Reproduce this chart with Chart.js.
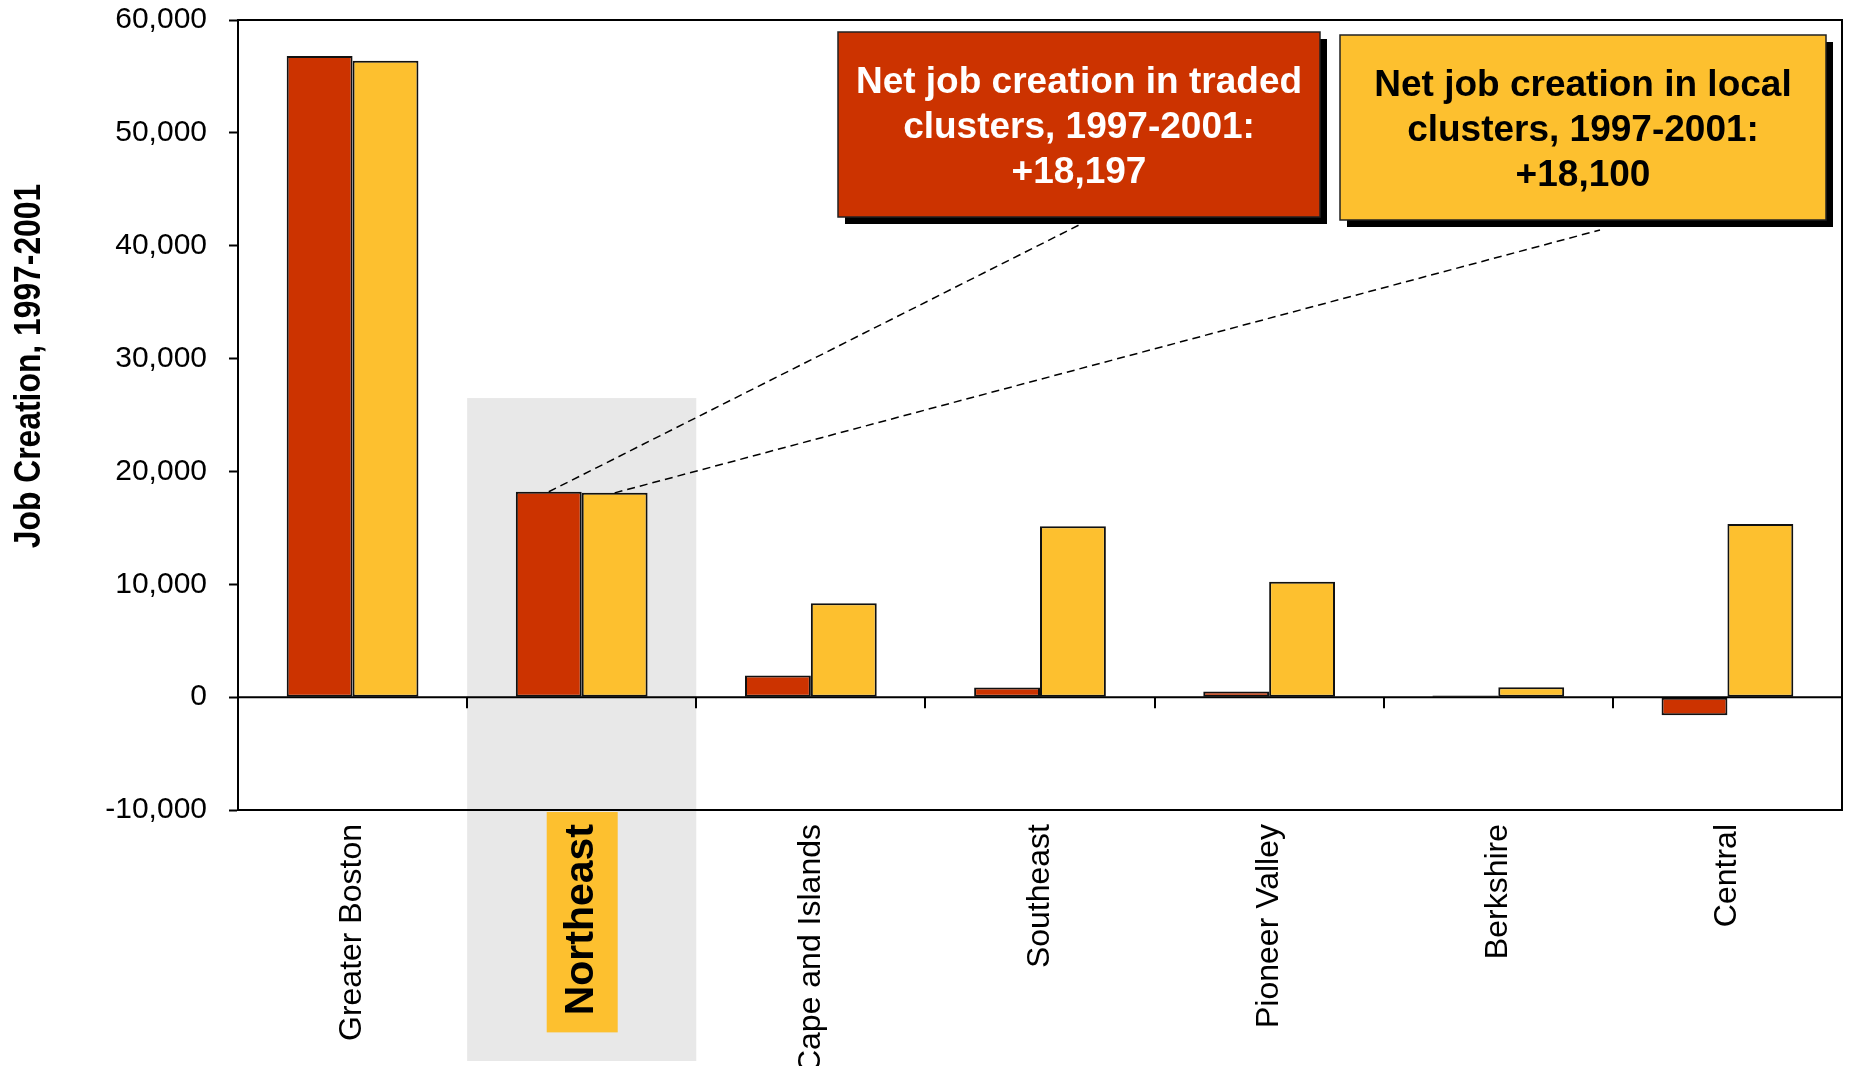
<!DOCTYPE html>
<html>
<head>
<meta charset="utf-8">
<script src="https://cdn.jsdelivr.net/npm/chart.js@4.4.1/dist/chart.umd.min.js"></script>
<style>
  html, body { margin: 0; padding: 0; background: #fff; }
  #wrap { width: 1852px; height: 1066px; }
</style>
</head>
<body>
<div id="wrap"><canvas id="chart" width="1852" height="1066"></canvas></div>
<script>
const regions = ['Greater Boston', 'Northeast', 'Cape and Islands', 'Southeast', 'Pioneer Valley', 'Berkshire', 'Central']
const tradedJobs = [56800, 18197, 1910, 850, 500, 150, -1600]
const localJobs = [56400, 18100, 8320, 15140, 10220, 880, 15340]
const yMin = -10000
const yMax = 60000
const yStep = 10000
const focusRegion = 1

const FONT = '"Liberation Sans", Arial, Helvetica, sans-serif'
const RED = '#CC3300'
const YELLOW = '#FDC02F'
const LABEL_PAD = 14

const fmt = (v) => v.toLocaleString('en-US')

const callouts = [
  {
    dataset: 0,
    box: [838, 32, 482, 185],
    fill: RED,
    ink: '#fff',
    firstBaseline: 93,
    lineFrom: [1087, 221],
    lines: ['Net job creation in traded', 'clusters, 1997-2001:', '+' + fmt(tradedJobs[focusRegion])],
  },
  {
    dataset: 1,
    box: [1340, 35, 486, 185],
    fill: YELLOW,
    ink: '#000',
    firstBaseline: 96,
    lineFrom: [1600, 230],
    lines: ['Net job creation in local', 'clusters, 1997-2001:', '+' + fmt(localJobs[focusRegion])],
  },
]

const decor = {
  id: 'decor',
  beforeDraw(chart) {
    const { ctx, chartArea: a, scales: { x, y } } = chart
    ctx.save()
    ctx.fillStyle = '#fff'
    ctx.fillRect(0, 0, chart.width, chart.height)
    // grey band behind the focus region, running down through its label
    const band = (a.right - a.left) / regions.length
    const cx = x.getPixelForValue(focusRegion)
    const top = y.getPixelForValue(26500)
    ctx.fillStyle = '#E8E8E8'
    ctx.fillRect(cx - band / 2, top, band, chart.height - 5 - top)
    // yellow tag under the focus label
    ctx.font = 'bold 41px ' + FONT
    const w = ctx.measureText(regions[focusRegion]).width
    const start = a.bottom + LABEL_PAD - 12
    ctx.fillStyle = YELLOW
    ctx.fillRect(cx - 35, start, 71, w + 12 + 17)
    ctx.restore()
  },
  afterDatasetsDraw(chart) {
    const { ctx, chartArea: a, scales: { y } } = chart
    const band = (a.right - a.left) / regions.length
    const y0 = y.getPixelForValue(0)
    ctx.save()
    ctx.strokeStyle = '#000'
    ctx.lineWidth = 2
    ctx.beginPath()
    ctx.moveTo(a.left, y0)
    ctx.lineTo(a.right, y0)
    for (let i = 1; i < regions.length; i++) {
      const bx = Math.round(a.left + i * band)
      ctx.moveTo(bx, y0)
      ctx.lineTo(bx, y0 + 11)
    }
    ctx.stroke()
    ctx.strokeRect(a.left, a.top, a.right - a.left, a.bottom - a.top)
    ctx.restore()
  },
  afterDraw(chart) {
    const { ctx } = chart
    ctx.save()

    // axis title, slightly condensed
    ctx.translate(40, 366)
    ctx.rotate(-Math.PI / 2)
    ctx.scale(0.86, 1)
    ctx.font = 'bold 37px ' + FONT
    ctx.fillStyle = '#000'
    ctx.textAlign = 'center'
    ctx.textBaseline = 'alphabetic'
    ctx.fillText('Job Creation, 1997-2001', 0, 0)
    ctx.setTransform(1, 0, 0, 1, 0, 0)

    // dashed leaders from the focus bars up to the boxes
    ctx.strokeStyle = '#000'
    ctx.lineWidth = 1.5
    ctx.setLineDash([8, 5])
    callouts.forEach((c) => {
      const bar = chart.getDatasetMeta(c.dataset).data[focusRegion]
      ctx.beginPath()
      ctx.moveTo(bar.x, bar.y)
      ctx.lineTo(c.lineFrom[0], c.lineFrom[1])
      ctx.stroke()
    })
    ctx.setLineDash([])

    // callout boxes with drop shadow
    callouts.forEach((c) => {
      const [bx, by, bw, bh] = c.box
      ctx.fillStyle = '#000'
      ctx.fillRect(bx + 7, by + 7, bw, bh)
      ctx.fillStyle = c.fill
      ctx.fillRect(bx, by, bw, bh)
      ctx.lineWidth = 1.5
      ctx.strokeStyle = '#222'
      ctx.strokeRect(bx, by, bw, bh)
      ctx.fillStyle = c.ink
      ctx.font = 'bold 37px ' + FONT
      ctx.textAlign = 'center'
      ctx.textBaseline = 'alphabetic'
      c.lines.forEach((line, i) => {
        ctx.fillText(line, bx + bw / 2, c.firstBaseline + i * 45)
      })
    })
    ctx.restore()
  },
}

new Chart(document.getElementById('chart').getContext('2d'), {
  type: 'bar',
  data: {
    labels: regions,
    datasets: [
      {
        label: 'Traded clusters',
        data: tradedJobs,
        backgroundColor: RED,
        borderColor: '#111',
        borderWidth: 2,
        borderSkipped: false,
      },
      {
        label: 'Local clusters',
        data: localJobs,
        backgroundColor: YELLOW,
        borderColor: '#111',
        borderWidth: 2,
        borderSkipped: false,
      },
    ],
  },
  options: {
    responsive: false,
    animation: false,
    devicePixelRatio: 1,
    layout: { padding: { top: 20, right: 10, left: 0, bottom: 0 } },
    plugins: {
      legend: { display: false },
      tooltip: { enabled: false },
    },
    datasets: {
      bar: { categoryPercentage: 0.575, barPercentage: 1 },
    },
    scales: {
      x: {
        afterFit: (s) => {
          s.height = 256
          s.paddingTop = 0
          s.paddingBottom = 0
        },
        grid: { display: false, drawTicks: false },
        border: { display: false },
        ticks: {
          autoSkip: false,
          maxRotation: 90,
          minRotation: 90,
          padding: LABEL_PAD,
          color: '#000',
          font: (c) => c.index === focusRegion
            ? { family: FONT, size: 41, weight: 'bold' }
            : { family: FONT, size: 32 },
        },
      },
      y: {
        min: yMin,
        max: yMax,
        afterFit: (s) => {
          s.width = 238
          s.paddingTop = 0
          s.paddingBottom = 0
        },
        grid: {
          display: true,
          drawOnChartArea: false,
          drawTicks: true,
          tickLength: 9,
          tickColor: '#000',
          tickWidth: 2,
        },
        border: { display: true, color: '#000', width: 2 },
        ticks: {
          stepSize: yStep,
          padding: 22,
          color: '#000',
          font: { family: FONT, size: 30 },
          callback: (v) => fmt(v),
        },
      },
    },
  },
  plugins: [decor],
})
</script>
</body>
</html>
